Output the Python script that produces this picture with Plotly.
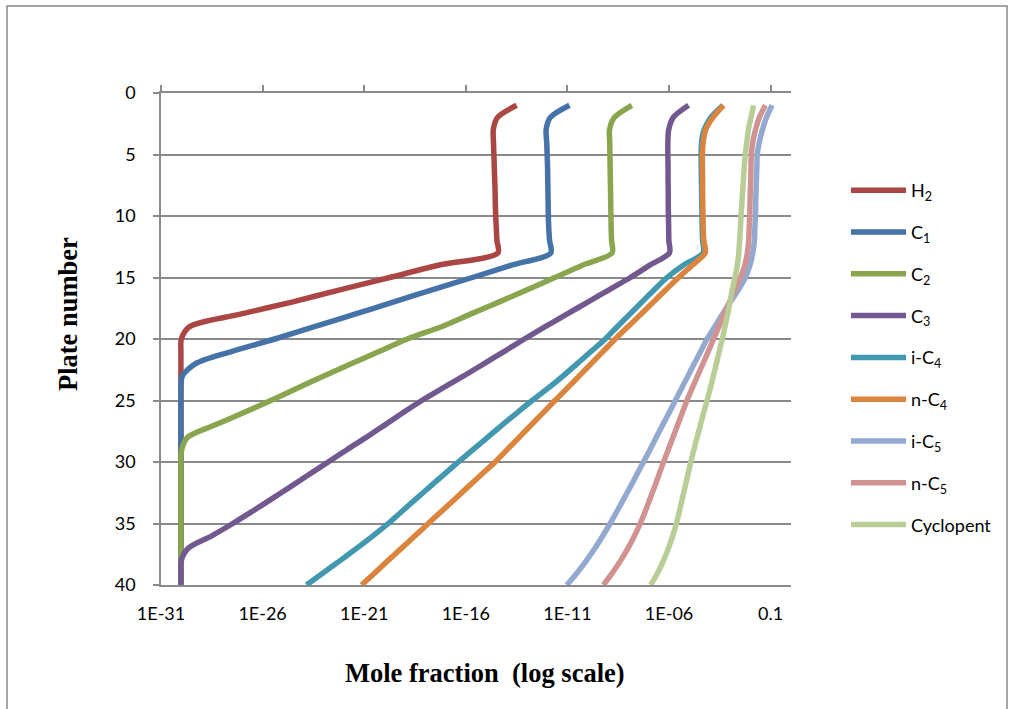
import plotly.graph_objects as go

# ---------------- data ----------------
plates = list(range(1, 41))

# log10 of mole fraction, plate 1 .. 40
h2_log10 = [-13.5, -14.45, -14.65, -14.64, -14.62, -14.6, -14.58, -14.56, -14.55, -14.53,
            -14.5, -14.47, -14.42, -17.35, -19.74, -22.2, -24.56, -27.15, -29.6, -30.0,
            -30.02, -30.02, -30.02, -30.02, -30.02, -30.02, -30.02, -30.02, -30.02, -30.02,
            -30.02, -30.02, -30.02, -30.02, -30.02, -30.02, -30.02, -30.02, -30.02, -30.02]
c1_log10 = [-10.9, -11.85, -12.05, -12.02, -12.0, -11.98, -11.97, -11.96, -11.95, -11.94,
            -11.92, -11.88, -11.82, -13.75, -15.68, -17.66, -19.58, -21.5, -23.45, -25.4,
            -27.5, -29.3, -29.95, -30.02, -30.02, -30.02, -30.02, -30.02, -30.02, -30.02,
            -30.02, -30.02, -30.02, -30.02, -30.02, -30.02, -30.02, -30.02, -30.02, -30.02]
c2_log10 = [-7.83, -8.7, -8.93, -8.92, -8.91, -8.9, -8.89, -8.88, -8.87, -8.86,
            -8.85, -8.83, -8.8, -10.26, -11.62, -12.98, -14.38, -15.8, -17.2, -18.88,
            -20.25, -21.62, -22.99, -24.3, -25.6, -26.95, -28.35, -29.7, -29.98, -30.02,
            -30.02, -30.02, -30.02, -30.02, -30.02, -30.02, -30.02, -30.02, -30.02, -30.02]
c3_log10 = [-5.04, -5.8, -6.02, -6.06, -6.06, -6.05, -6.05, -6.04, -6.04, -6.03,
            -6.02, -6.01, -5.98, -6.95, -7.9, -8.95, -10.0, -11.05, -12.1, -13.12,
            -14.1, -15.1, -16.1, -17.15, -18.17, -19.1, -20.0, -20.9, -21.85, -22.77,
            -23.7, -24.62, -25.55, -26.5, -27.47, -28.5, -29.65, -30.0, -30.02, -30.02]
ic4_log10 = [-3.35, -3.95, -4.28, -4.4, -4.42, -4.42, -4.41, -4.4, -4.39, -4.38,
             -4.37, -4.35, -4.32, -5.3, -6.1, -6.73, -7.34, -7.94, -8.55, -9.14,
             -9.83, -10.52, -11.21, -11.95, -12.74, -13.48, -14.22, -14.93, -15.65, -16.37,
             -17.07, -17.76, -18.45, -19.14, -19.82, -20.57, -21.36, -22.17, -23.01, -23.84]
nc4_log10 = [-3.32, -3.85, -4.2, -4.32, -4.36, -4.36, -4.35, -4.35, -4.34, -4.33,
             -4.32, -4.29, -4.22, -4.86, -5.53, -6.16, -6.78, -7.39, -8.03, -8.65,
             -9.24, -9.83, -10.42, -11.01, -11.61, -12.2, -12.79, -13.38, -13.97, -14.56,
             -15.22, -15.88, -16.53, -17.19, -17.85, -18.5, -19.16, -19.82, -20.47, -21.13]
ic5_log10 = [-0.93, -1.21, -1.41, -1.56, -1.66, -1.68, -1.7, -1.72, -1.74, -1.75,
             -1.78, -1.8, -1.88, -2.02, -2.25, -2.59, -2.99, -3.38, -3.75, -4.13,
             -4.44, -4.76, -5.07, -5.38, -5.69, -6.0, -6.32, -6.63, -6.94, -7.26,
             -7.58, -7.9, -8.23, -8.56, -8.9, -9.26, -9.64, -10.06, -10.52, -11.03]
nc5_log10 = [-1.26, -1.56, -1.75, -1.88, -1.95, -1.97, -1.98, -2.0, -2.02, -2.03,
             -2.06, -2.08, -2.15, -2.27, -2.49, -2.76, -3.03, -3.3, -3.55, -3.81,
             -4.07, -4.33, -4.6, -4.86, -5.12, -5.35, -5.58, -5.81, -6.04, -6.27,
             -6.49, -6.71, -6.94, -7.17, -7.42, -7.7, -8.02, -8.38, -8.78, -9.23]
cyclopent_log10 = [-1.84, -1.97, -2.1, -2.17, -2.25, -2.3, -2.34, -2.38, -2.42, -2.46,
                   -2.49, -2.53, -2.57, -2.64, -2.76, -2.89, -3.0, -3.12, -3.25, -3.38,
                   -3.53, -3.67, -3.82, -3.97, -4.13, -4.3, -4.46, -4.62, -4.78, -4.93,
                   -5.07, -5.21, -5.35, -5.49, -5.64, -5.82, -6.03, -6.27, -6.56, -6.9]

series_names = ["H<sub>2</sub>", "C<sub>1</sub>", "C<sub>2</sub>", "C<sub>3</sub>",
                "i-C<sub>4</sub>", "n-C<sub>4</sub>", "i-C<sub>5</sub>", "n-C<sub>5</sub>",
                "Cyclopent"]
series_values = [h2_log10, c1_log10, c2_log10, c3_log10, ic4_log10, nc4_log10,
                 ic5_log10, nc5_log10, cyclopent_log10]
series_colors = ["#AA4643", "#4572A7", "#89A54E", "#71588F", "#4198AF",
                 "#DB843D", "#93A9CF", "#D19392", "#B9CD96"]

x_tick_vals = [1e-31, 1e-26, 1e-21, 1e-16, 1e-11, 1e-6, 1e-1]
x_tick_text = ["1E-31", "1E-26", "1E-21", "1E-16", "1E-11", "1E-06", "0.1"]
y_tick_vals = [0, 5, 10, 15, 20, 25, 30, 35, 40]

# ---------------- figure ----------------
GRAY = "#8a8a8a"
TICK_FONT = dict(family="Lato, 'Open Sans', sans-serif", size=18, color="#000000")
TITLE_FONT = dict(family="'Liberation Serif', 'Times New Roman', serif", size=26.5,
                  color="#000000", weight="bold")

fig = go.Figure()
for name, vals, col in zip(series_names, series_values, series_colors):
    fig.add_trace(go.Scatter(
        x=[10 ** v for v in vals], y=plates, mode="lines", name=name,
        legendgroup=name,
        line=dict(color=col, width=5.5, shape="spline", smoothing=0.8),
    ))

# helper trace so the top (mirror) x axis is drawn
fig.add_trace(go.Scatter(x=[], y=[], xaxis="x2", yaxis="y", showlegend=False,
                         hoverinfo="skip"))

L, R, T, B = 161, 219, 93, 124
PW = 1010 - L - R
PH = 709 - T - B

fig.update_layout(
    width=1010, height=709,
    margin=dict(l=L, r=R, t=T, b=B, pad=0),
    paper_bgcolor="white", plot_bgcolor="white",
    showlegend=True,
    xaxis=dict(
        type="log", range=[-31, 0],
        tickmode="array", tickvals=x_tick_vals, ticktext=x_tick_text,
        ticks="", showgrid=False, zeroline=False,
        showline=True, linecolor=GRAY, linewidth=1.5,
        tickfont=TICK_FONT, ticklabelstandoff=12,
    ),
    xaxis2=dict(
        type="log", range=[-31, 0], overlaying="x", side="top", anchor="y",
        tickmode="array", tickvals=x_tick_vals,
        ticks="outside", ticklen=6, tickwidth=1.5, tickcolor=GRAY,
        showticklabels=False, showgrid=False, zeroline=False,
        showline=True, linecolor=GRAY, linewidth=1.5,
    ),
    yaxis=dict(
        range=[40, 0], tickmode="array", tickvals=y_tick_vals,
        ticks="outside", ticklen=6, tickwidth=1.5, tickcolor=GRAY,
        showline=True, linecolor=GRAY, linewidth=1.5,
        showgrid=True, gridcolor=GRAY, gridwidth=1.5, zeroline=False,
        tickfont=TICK_FONT, ticklabelstandoff=14,
    ),
    legend=dict(
        x=(846 - L) / PW, xanchor="left",
        y=(709 - B - 172) / PH, yanchor="top",
        font=TICK_FONT, bgcolor="rgba(0,0,0,0)",
        tracegroupgap=15.4, itemwidth=55, traceorder="grouped",
    ),
    annotations=[
        dict(text="<b>Mole fraction\u00a0 (log scale)</b>", xref="paper", yref="paper",
             x=(485 - L) / PW, y=(709 - B - 673) / PH, xanchor="center", yanchor="middle",
             showarrow=False, font=TITLE_FONT),
        dict(text="<b>Plate number</b>", xref="paper", yref="paper", textangle=-90,
             x=(68 - L) / PW, y=(709 - B - 314) / PH, xanchor="center", yanchor="middle",
             showarrow=False, font=TITLE_FONT),
    ],
    shapes=[
        dict(type="rect", xref="paper", yref="paper",
             x0=(7 - L) / PW, x1=(1007 - L) / PW,
             y0=(709 - B - 712) / PH, y1=(709 - B - 6) / PH,
             line=dict(color="#868686", width=1.5), fillcolor="rgba(0,0,0,0)"),
    ],
)

fig.write_html("out.html")
